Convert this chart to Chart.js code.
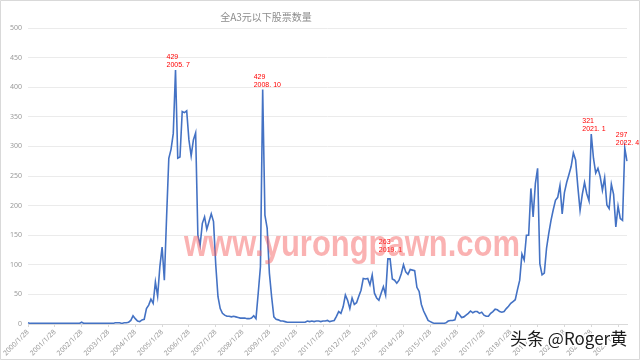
<!DOCTYPE html>
<html>
<head>
<meta charset="utf-8">
<script src="https://cdn.jsdelivr.net/npm/chart.js@4/dist/chart.umd.min.js"></script>
<style>
  html, body { margin: 0; padding: 0; background: #ffffff; }
  #wrap { width: 640px; height: 360px; position: relative; }
</style>
</head>
<body>
<div id="wrap"><canvas id="c" width="640" height="360"></canvas></div>
<script>
// ---- data (monthly, starting 2000/1) ----
const startYear = 2000;
const titleText = '全A3元以下股票数量';
const values = [
  // 2000
  2,1,1,1,1,1,1,1,1,1,1,1,
  // 2001
  1,1,1,1,1,1,1,1,1,1,1,1,
  // 2002
  3,1,1,1,1,1,1,1,1,1,1,1,
  // 2003
  1,1,1,2,2,2,1,2,2,3,6,14,
  // 2004
  9,5,4,7,8,26,32,42,35,71,47,97,
  // 2005
  130,74,180,280,295,322,429,280,282,359,357,360,
  // 2006
  311,284,311,323,150,133,170,181,160,173,186,173,
  // 2007
  100,46,26,18,15,13,13,12,13,12,11,10,
  // 2008
  10,10,9,9,10,14,9,52,97,396,184,162,
  // 2009
  86,46,12,8,7,5,5,4,3,3,3,3,
  // 2010
  3,3,3,3,3,5,4,5,4,5,5,4,
  // 2011
  5,5,6,4,5,6,13,21,18,29,49,40,
  // 2012
  26,44,33,36,47,57,77,76,77,66,83,52,
  // 2013
  44,40,52,63,49,110,110,76,74,69,74,85,
  // 2014
  100,88,84,92,91,90,62,55,33,22,14,6,
  // 2015
  4,2,1,1,1,1,1,2,5,6,6,7,
  // 2016
  20,16,11,12,15,18,22,19,21,21,18,20,
  // 2017
  15,13,13,18,21,25,24,21,20,21,26,30,
  // 2018
  35,38,41,58,74,118,108,150,150,229,181,237,
  // 2019
  263,102,83,86,128,153,175,193,209,214,234,186,
  // 2020
  222,239,252,266,289,277,232,192,219,239,220,208,
  // 2021
  321,280,255,263,249,226,247,201,195,236,219,164,
  // 2022
  199,178,175,297,275
];
const labels = values.map((_, i) => (startYear + Math.floor(i / 12)) + '/' + (i % 12 + 1) + '/28');
const yTicks = [0, 50, 100, 150, 200, 250, 300, 350, 400, 450, 500];

// annotations as they appear on the picture (anchor: category index, value)
const annLine1 = ['429', '429', '263', '321', '297'];
const annLine2 = ['2005. 7', '2008. 10', '2019. 1', '2021. 1', '2022. 4'];
const annIndex = [66, 105, 161, 252, 267];
const annValue = [429, 396, 117, 321, 297];

const watermark1 = 'www.yurongpawn.com';
const watermark2 = '头条 @Roger黄';

const frame = {
  id: 'frame',
  beforeDraw(chart) {
    const ctx = chart.ctx;
    ctx.save();
    ctx.fillStyle = '#ffffff';
    ctx.fillRect(0, 0, chart.width, chart.height);
    ctx.restore();
  },
  afterDraw(chart) {
    const ctx = chart.ctx;
    const xs = chart.scales.x, ys = chart.scales.y;
    ctx.save();
    // title
    ctx.font = '10px "Noto Sans CJK SC"';
    ctx.fillStyle = '#8c8c8c';
    ctx.textAlign = 'center';
    ctx.textBaseline = 'middle';
    ctx.fillText(titleText, 266, 17);
    // annotations
    ctx.font = '7px "Liberation Sans", sans-serif';
    ctx.fillStyle = '#ff0000';
    ctx.textAlign = 'left';
    ctx.textBaseline = 'alphabetic';
    for (let k = 0; k < annIndex.length; k++) {
      const px = Math.min(xs.getPixelForValue(annIndex[k]) - 9, 616);
      const py = ys.getPixelForValue(annValue[k]);
      ctx.fillText(annLine1[k], px, py - 11);
      ctx.fillText(annLine2[k], px, py - 3);
    }
    // watermark
    ctx.font = 'bold 37px "Liberation Sans", sans-serif';
    ctx.fillStyle = 'rgba(245, 95, 95, 0.48)';
    ctx.textAlign = 'center';
    ctx.fillText(watermark1, 352, 256, 336);
    // bottom-right tag
    ctx.font = '17px "Noto Sans CJK SC"';
    ctx.textAlign = 'left';
    ctx.lineJoin = 'round';
    ctx.lineWidth = 3;
    ctx.strokeStyle = '#ffffff';
    ctx.strokeText(watermark2, 510, 345);
    ctx.fillStyle = '#1a1a1a';
    ctx.fillText(watermark2, 510, 345);
    // outer frame
    ctx.strokeStyle = '#d9d9d9';
    ctx.lineWidth = 1;
    ctx.strokeRect(0.5, 0.5, chart.width - 1, chart.height - 1);
    ctx.restore();
  }
};

new Chart(document.getElementById('c'), {
  type: 'line',
  data: {
    labels: labels,
    datasets: [{
      data: values,
      borderColor: '#4472C4',
      borderWidth: 1.6,
      pointRadius: 0,
      tension: 0,
      fill: false
    }]
  },
  options: {
    responsive: false,
    animation: false,
    layout: { padding: { top: 28, right: 13, left: 0, bottom: 0 } },
    plugins: {
      legend: { display: false },
      title: { display: false },
      tooltip: { enabled: false }
    },
    scales: {
      x: {
        type: 'category',
        offset: false,
        afterFit(s) { s.height = 36; },
        grid: { display: true, drawOnChartArea: false, drawTicks: true, tickLength: 3, color: '#d9d9d9' },
        border: { display: true, color: '#d9d9d9' },
        ticks: {
          autoSkip: false,
          minRotation: 45,
          maxRotation: 45,
          padding: 1,
          color: '#999999',
          font: { size: 7, family: '"Noto Sans", "Liberation Sans", sans-serif' },
          callback(val, idx) { return idx % 12 === 0 ? labels[idx] : null; }
        }
      },
      y: {
        min: 0,
        max: 500,
        afterFit(s) { s.width = 28; },
        afterBuildTicks(s) { s.ticks = yTicks.map(v => ({ value: v })); },
        grid: { color: '#ebebeb', drawTicks: false },
        border: { display: false },
        ticks: {
          padding: 6,
          color: '#999999',
          font: { size: 7, family: '"Noto Sans", "Liberation Sans", sans-serif' }
        }
      }
    }
  },
  plugins: [frame]
});
</script>
</body>
</html>
